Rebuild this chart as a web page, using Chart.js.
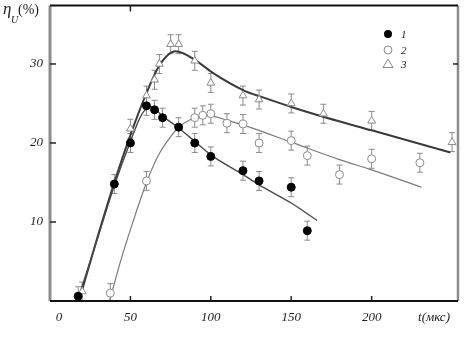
<!DOCTYPE html>
<html>
<head>
<meta charset="utf-8">
<script src="https://cdn.jsdelivr.net/npm/chart.js@4"></script>
<style>
  html, body { margin: 0; padding: 0; background: #fff; }
  #wrap { width: 473px; height: 338px; }
</style>
</head>
<body>
<div id="wrap"><canvas id="chart" width="473" height="338"></canvas></div>
<script>
// measured points, t in microseconds, value in %
const s1T = [17.5, 40, 50, 60, 65, 70, 80, 90, 100, 120, 130, 150, 160];
const s1V = [0.6, 14.8, 20, 24.7, 24.2, 23.2, 22, 20, 18.3, 16.5, 15.2, 14.4, 8.9];

const s2T = [37.5, 60, 90, 95, 100, 110, 120, 130, 150, 160, 180, 200, 230];
const s2V = [1.0, 15.2, 23.2, 23.5, 23.7, 22.5, 22.4, 20, 20.3, 18.4, 16, 18, 17.5];

const s3T = [20, 50, 60, 65, 68, 75, 80, 90, 100, 120, 130, 150, 170, 200, 250];
const s3V = [1.2, 21.8, 26, 28, 30, 32.5, 32.5, 30.4, 27.6, 26, 25.5, 25, 23.7, 22.8, 20.1];

// fitted curves as drawn in the figure
const c1T = [17, 30, 40, 50, 57, 63, 70, 80, 90, 100, 120, 130, 150, 166];
const c1V = [0, 8.2, 14.6, 20.2, 23.6, 24.6, 23.4, 21.9, 20.2, 18.5, 16, 14.7, 12.4, 10.2];

const c2T = [37, 45, 54, 60, 67, 75, 80, 90, 97, 110, 124, 150, 180, 200, 231];
const c2V = [0, 5.8, 11.5, 15, 18.3, 20.8, 22, 23.2, 23.5, 22.9, 22, 20.1, 17.9, 16.6, 14.4];

const c3T = [18, 30, 40, 50, 60, 68, 78, 91, 101, 121, 132, 151, 172, 200, 249];
const c3V = [0, 8.4, 15, 21, 26.3, 29.8, 31.6, 30.4, 28.9, 26.6, 25.8, 24.5, 23.2, 21.6, 18.8];

const xTicks = [0, 50, 100, 150, 200];
const yTicks = [10, 20, 30];
const ERR = 1.2;

const serif = "'Liberation Serif', 'DejaVu Serif', serif";

function pts(xs, ys) {
  return xs.map((x, i) => ({ x: x, y: ys[i] }));
}

function curve(xs, ys, color, width) {
  return {
    type: "line",
    data: pts(xs, ys),
    borderColor: color,
    borderWidth: width,
    pointRadius: 0,
    fill: false,
    cubicInterpolationMode: "monotone",
    order: 2,
  };
}

function marks(xs, ys, style, fillColor, strokeColor, r) {
  return {
    type: "scatter",
    data: pts(xs, ys),
    pointStyle: style,
    pointRadius: r,
    backgroundColor: fillColor,
    borderColor: strokeColor,
    borderWidth: 1,
    errBars: true,
    order: 1,
  };
}

const errorBars = {
  id: "errorBars",
  beforeDatasetsDraw(chart) {
    const ctx = chart.ctx;
    const y = chart.scales.y;
    ctx.save();
    ctx.strokeStyle = "#8a8a8a";
    ctx.lineWidth = 1;
    chart.data.datasets.forEach((ds, i) => {
      if (!ds.errBars) return;
      chart.getDatasetMeta(i).data.forEach((p, j) => {
        const v = ds.data[j].y;
        const top = y.getPixelForValue(v + ERR);
        const bot = y.getPixelForValue(Math.max(0, v - ERR));
        ctx.beginPath();
        ctx.moveTo(p.x, top); ctx.lineTo(p.x, bot);
        ctx.moveTo(p.x - 3, top); ctx.lineTo(p.x + 3, top);
        ctx.moveTo(p.x - 3, bot); ctx.lineTo(p.x + 3, bot);
        ctx.stroke();
      });
    });
    ctx.restore();
  },
};

const frame = {
  id: "frame",
  afterDraw(chart) {
    const ctx = chart.ctx;
    const a = chart.chartArea;
    const xs = chart.scales.x;
    const ys = chart.scales.y;
    ctx.save();
    // left axis (gray, thick)
    ctx.strokeStyle = "#8c8c8c";
    ctx.lineWidth = 3;
    ctx.beginPath(); ctx.moveTo(a.left, a.top); ctx.lineTo(a.left, a.bottom); ctx.stroke();
    // right border
    ctx.lineWidth = 2.5;
    ctx.beginPath(); ctx.moveTo(a.right, a.top); ctx.lineTo(a.right, a.bottom); ctx.stroke();
    // top and bottom
    ctx.strokeStyle = "#111";
    ctx.lineWidth = 2;
    ctx.beginPath(); ctx.moveTo(a.left, a.top); ctx.lineTo(a.right, a.top); ctx.stroke();
    ctx.beginPath(); ctx.moveTo(a.left, a.bottom); ctx.lineTo(a.right, a.bottom); ctx.stroke();

    // inward ticks
    ctx.lineWidth = 1.5;
    ctx.strokeStyle = "#222";
    xTicks.slice(1).forEach((t) => {
      const px = xs.getPixelForValue(t);
      ctx.beginPath(); ctx.moveTo(px, a.bottom); ctx.lineTo(px, a.bottom - 5); ctx.stroke();
    });
    const tx = xs.getPixelForValue(50);
    ctx.beginPath(); ctx.moveTo(tx, a.top); ctx.lineTo(tx, a.top + 6); ctx.stroke();
    yTicks.forEach((t) => {
      const py = ys.getPixelForValue(t);
      ctx.beginPath(); ctx.moveTo(a.left, py); ctx.lineTo(a.left + 6, py); ctx.stroke();
    });
    const ry = ys.getPixelForValue(30);
    ctx.beginPath(); ctx.moveTo(a.right, ry); ctx.lineTo(a.right - 5, ry); ctx.stroke();

    // text
    ctx.fillStyle = "#222";
    ctx.textBaseline = "alphabetic";
    ctx.textAlign = "center";
    ctx.font = "italic 13px " + serif;
    ctx.fillText("0", 59, 321);
    ctx.fillText("t(мкс)", 434, 321);

    ctx.textAlign = "left";
    ctx.font = "italic 17px " + serif;
    ctx.fillText("η", 3, 14);
    ctx.font = "italic 10px " + serif;
    ctx.fillText("U", 11, 23);
    ctx.font = "14px " + serif;
    ctx.fillText("(%)", 18, 14);

    // legend
    const lx = 388;
    const ly = [34, 50, 64];
    ctx.lineWidth = 1;
    ctx.fillStyle = "#000";
    ctx.beginPath(); ctx.arc(lx, ly[0], 4, 0, Math.PI * 2); ctx.fill();
    ctx.strokeStyle = "#8a8a8a";
    ctx.beginPath(); ctx.arc(lx, ly[1], 4, 0, Math.PI * 2); ctx.stroke();
    ctx.beginPath();
    ctx.moveTo(lx, ly[2] - 5); ctx.lineTo(lx + 5, ly[2] + 3.5); ctx.lineTo(lx - 5, ly[2] + 3.5);
    ctx.closePath(); ctx.stroke();
    ctx.fillStyle = "#222";
    ctx.font = "italic 11px " + serif;
    ["1", "2", "3"].forEach((s, i) => ctx.fillText(s, 401, ly[i] + 4));
    ctx.restore();
  },
};

function noPad(s) {
  s.paddingTop = 0;
  s.paddingBottom = 0;
  s.paddingLeft = 0;
  s.paddingRight = 0;
}

new Chart(document.getElementById("chart"), {
  data: {
    datasets: [
      curve(c1T, c1V, "#4a4a4a", 1.4),
      curve(c2T, c2V, "#7a7a7a", 1.2),
      curve(c3T, c3V, "#3a3a3a", 2),
      marks(s1T, s1V, "circle", "#000", "#000", 4),
      marks(s2T, s2V, "circle", "#fff", "#8a8a8a", 4),
      marks(s3T, s3V, "triangle", "#fff", "#8a8a8a", 4.5),
    ],
  },
  options: {
    responsive: false,
    animation: false,
    layout: { padding: { top: 4, right: 15, left: 0, bottom: 0 } },
    plugins: { legend: { display: false }, tooltip: { enabled: false } },
    scales: {
      x: {
        type: "linear",
        min: 0,
        max: 253.7,
        afterFit: (s) => { s.height = 37; noPad(s); },
        afterBuildTicks: (s) => { s.ticks = xTicks.map((v) => ({ value: v })); },
        grid: { display: false, drawTicks: false },
        border: { display: false },
        ticks: {
          padding: 9,
          color: "#222",
          font: { family: serif, style: "italic", size: 13 },
          callback: (v) => (v === 0 ? "" : String(v)),
          maxRotation: 0,
        },
      },
      y: {
        type: "linear",
        min: 0,
        max: 37.4,
        afterFit: (s) => { s.width = 50; noPad(s); },
        afterBuildTicks: (s) => { s.ticks = yTicks.map((v) => ({ value: v })); },
        grid: { display: false, drawTicks: false },
        border: { display: false },
        ticks: {
          padding: 7,
          color: "#222",
          font: { family: serif, style: "italic", size: 13 },
        },
      },
    },
  },
  plugins: [errorBars, frame],
});
</script>
</body>
</html>
